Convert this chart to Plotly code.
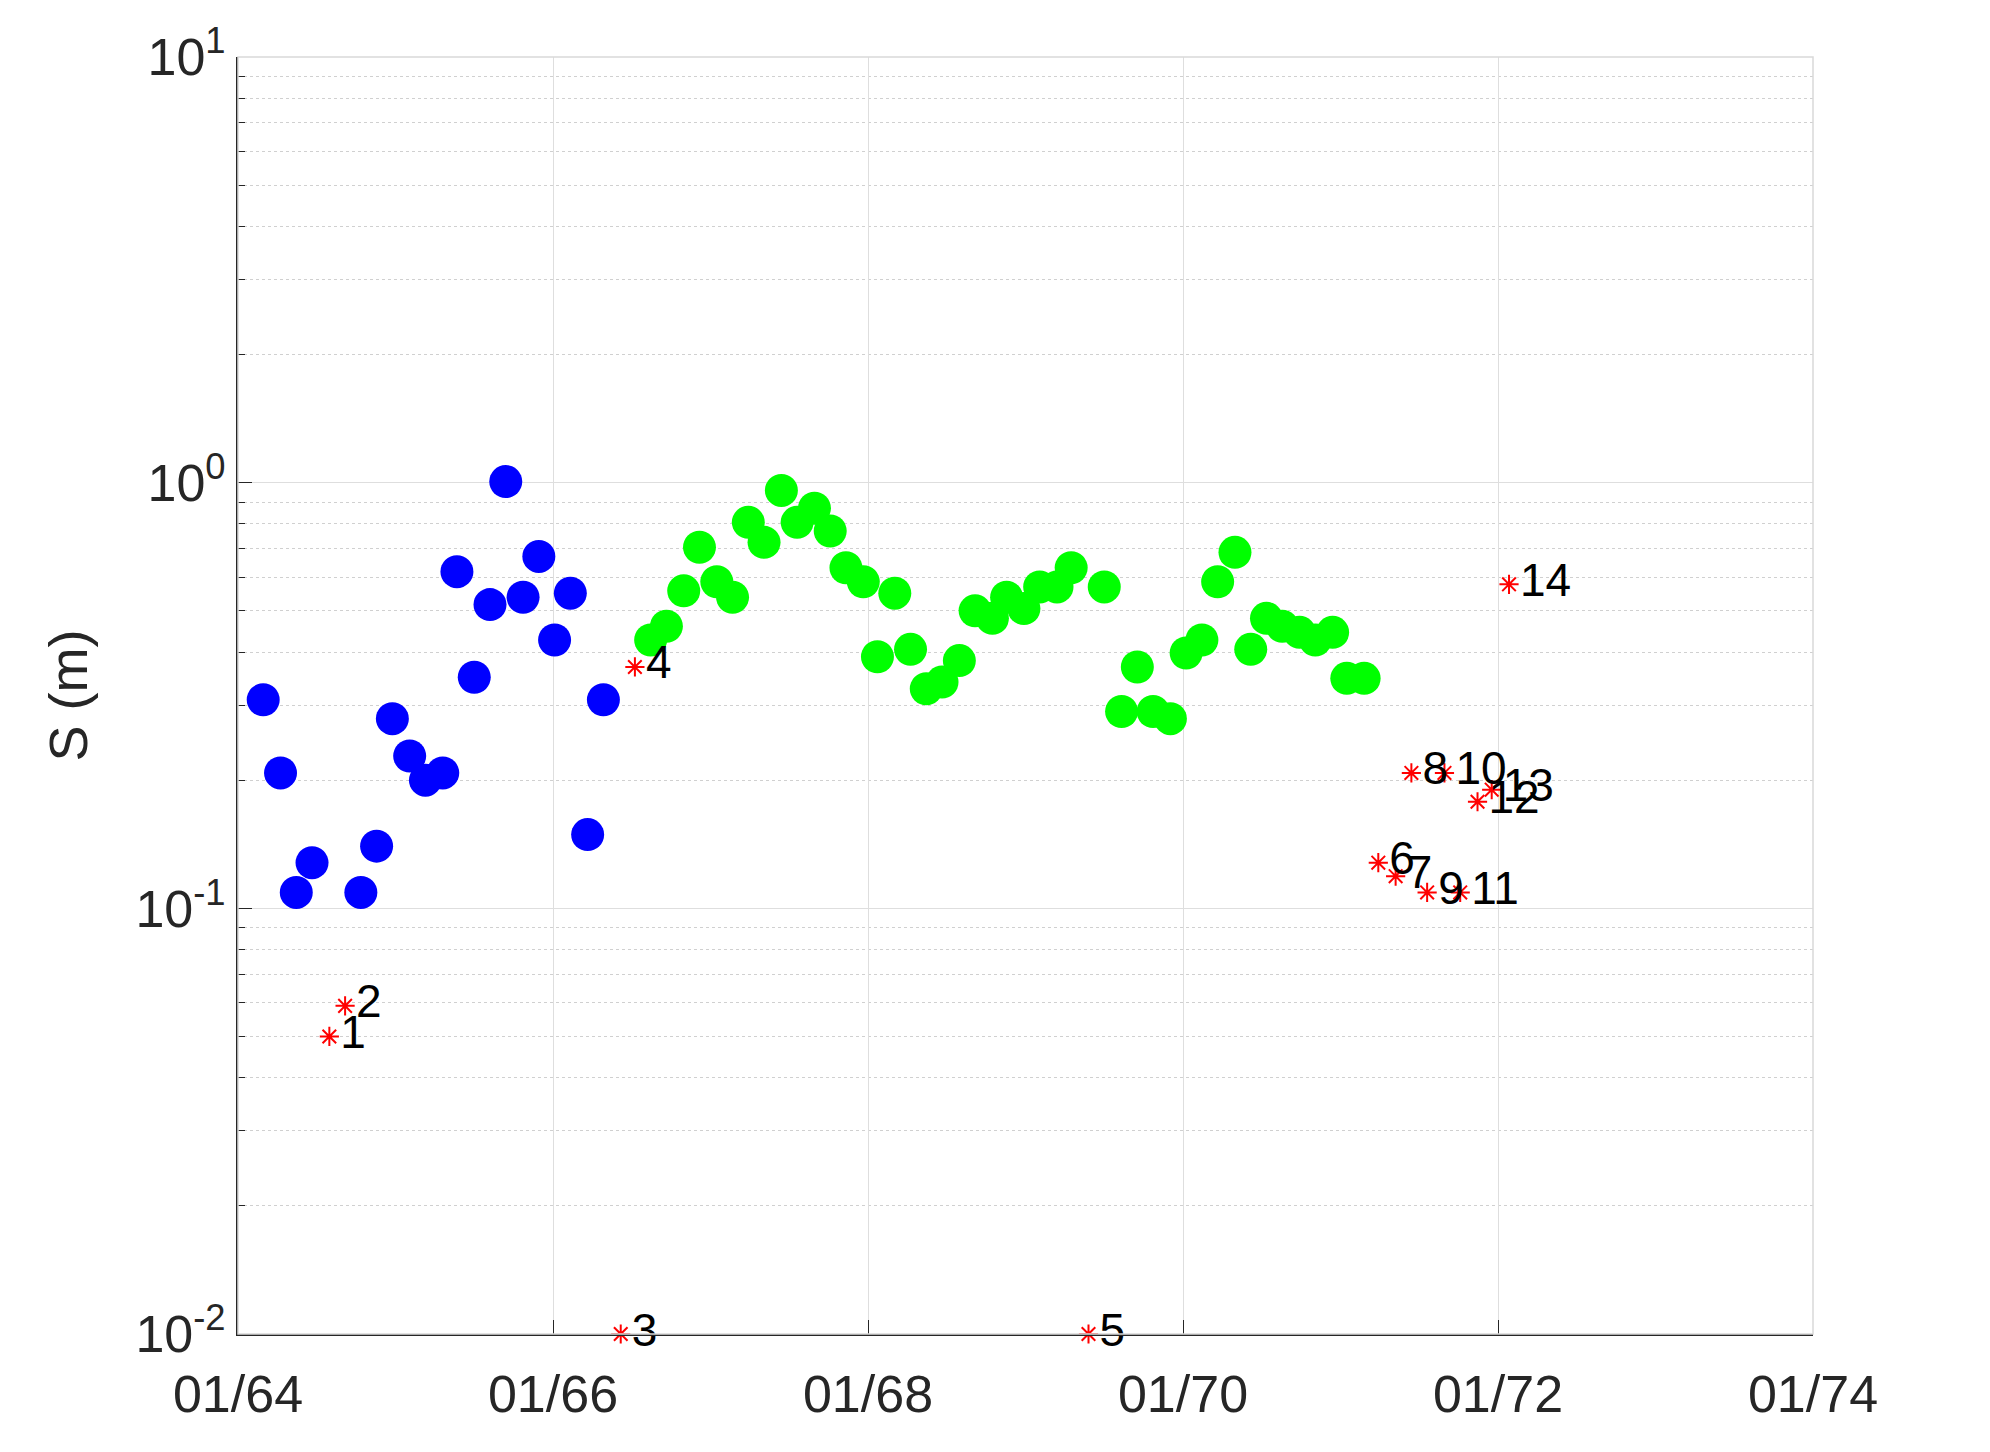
import plotly.graph_objects as go

# decimal years, S in metres
blue_t = [1964.16, 1964.27, 1964.37, 1964.47, 1964.78, 1964.88, 1964.98, 1965.09, 1965.19, 1965.30,
          1965.39, 1965.50, 1965.60, 1965.70, 1965.81, 1965.91, 1966.01, 1966.11, 1966.22, 1966.32]
blue_s = [0.309, 0.208, 0.109, 0.128, 0.109, 0.140, 0.279, 0.228, 0.200, 0.208,
          0.618, 0.349, 0.517, 1.006, 0.538, 0.671, 0.427, 0.550, 0.149, 0.309]

green_t = [1966.62, 1966.72, 1966.83, 1966.93, 1967.04, 1967.14, 1967.24, 1967.34, 1967.45, 1967.55,
           1967.66, 1967.76, 1967.86, 1967.97, 1968.06, 1968.17, 1968.27, 1968.37, 1968.47, 1968.58,
           1968.68, 1968.79, 1968.88, 1968.99, 1969.09, 1969.20, 1969.29, 1969.50, 1969.61, 1969.71,
           1969.81, 1969.92, 1970.02, 1970.12, 1970.22, 1970.33, 1970.43, 1970.53, 1970.63, 1970.74,
           1970.84, 1970.95, 1971.04, 1971.15]
green_s = [0.427, 0.460, 0.557, 0.705, 0.585, 0.538, 0.807, 0.724, 0.959, 0.807,
           0.871, 0.770, 0.631, 0.585, 0.390, 0.550, 0.406, 0.328, 0.340, 0.382,
           0.500, 0.480, 0.538, 0.506, 0.569, 0.569, 0.631, 0.569, 0.290, 0.369,
           0.290, 0.279, 0.398, 0.427, 0.585, 0.686, 0.406, 0.480, 0.460, 0.445,
           0.427, 0.445, 0.347, 0.347]

red_t = [1964.58, 1964.68, 1966.43, 1966.52, 1969.40, 1971.24, 1971.35, 1971.45, 1971.55, 1971.66,
         1971.76, 1971.87, 1971.96, 1972.07]
red_s = [0.050, 0.059, 0.010, 0.369, 0.010, 0.128, 0.119, 0.208, 0.109, 0.208,
         0.109, 0.178, 0.190, 0.577]
red_labels = [str(i) for i in range(1, 15)]

x_ticks = [1964, 1966, 1968, 1970, 1972, 1974]
x_text = ["01/64", "01/66", "01/68", "01/70", "01/72", "01/74"]
y_ticks = [0.01, 0.1, 1, 10]
y_text = ["10<sup>-2</sup>", "10<sup>-1</sup>", "10<sup>0</sup>", "10<sup>1</sup>"]
minor_vals = [m * 10.0 ** e for e in (-2, -1, 0) for m in range(2, 10)]

fig = go.Figure()
fig.add_trace(go.Scatter(x=blue_t, y=blue_s, mode='markers',
                         marker=dict(color='#0000ff', size=33), showlegend=False))
fig.add_trace(go.Scatter(x=green_t, y=green_s, mode='markers',
                         marker=dict(color='#00ff00', size=33), showlegend=False))
fig.add_trace(go.Scatter(x=red_t, y=red_s, mode='markers+text', text=red_labels,
                         textposition='middle right', textfont=dict(size=46, color='black'),
                         marker=dict(color='red', size=16, symbol='asterisk-open',
                                     line=dict(color='red', width=2)),
                         cliponaxis=False, showlegend=False))

fig.add_shape(type='rect', xref='paper', yref='paper', x0=0, x1=1, y0=0, y1=1,
              line=dict(color='#d9d9d9', width=1.5))

fig.update_layout(
    width=1990, height=1452, plot_bgcolor='white', paper_bgcolor='white',
    margin=dict(l=230, r=185, t=49, b=126),
    font=dict(family='Liberation Sans, Arial', size=52, color='#262626'),
    xaxis=dict(range=[1964, 1974], tickvals=x_ticks, ticktext=x_text, showgrid=True,
               gridcolor='#dedede', zeroline=False, showline=True, linecolor='#262626',
               linewidth=2, ticks='inside', ticklen=14, tickcolor='#262626',
               ticklabelstandoff=14),
    yaxis=dict(type='log', range=[-2, 1], tickvals=y_ticks, ticktext=y_text, showgrid=True,
               gridcolor='#dedede', zeroline=False, showline=True, linecolor='#262626',
               linewidth=2, ticks='inside', ticklen=14, tickcolor='#262626',
               minor=dict(tickvals=minor_vals, showgrid=True, gridcolor='#d0d0d0',
                          griddash='dot', ticks='inside', ticklen=7, tickcolor='#262626'),
               title=dict(text='S (m)', font=dict(size=54), standoff=30)),
)

fig.write_html("out.html")
